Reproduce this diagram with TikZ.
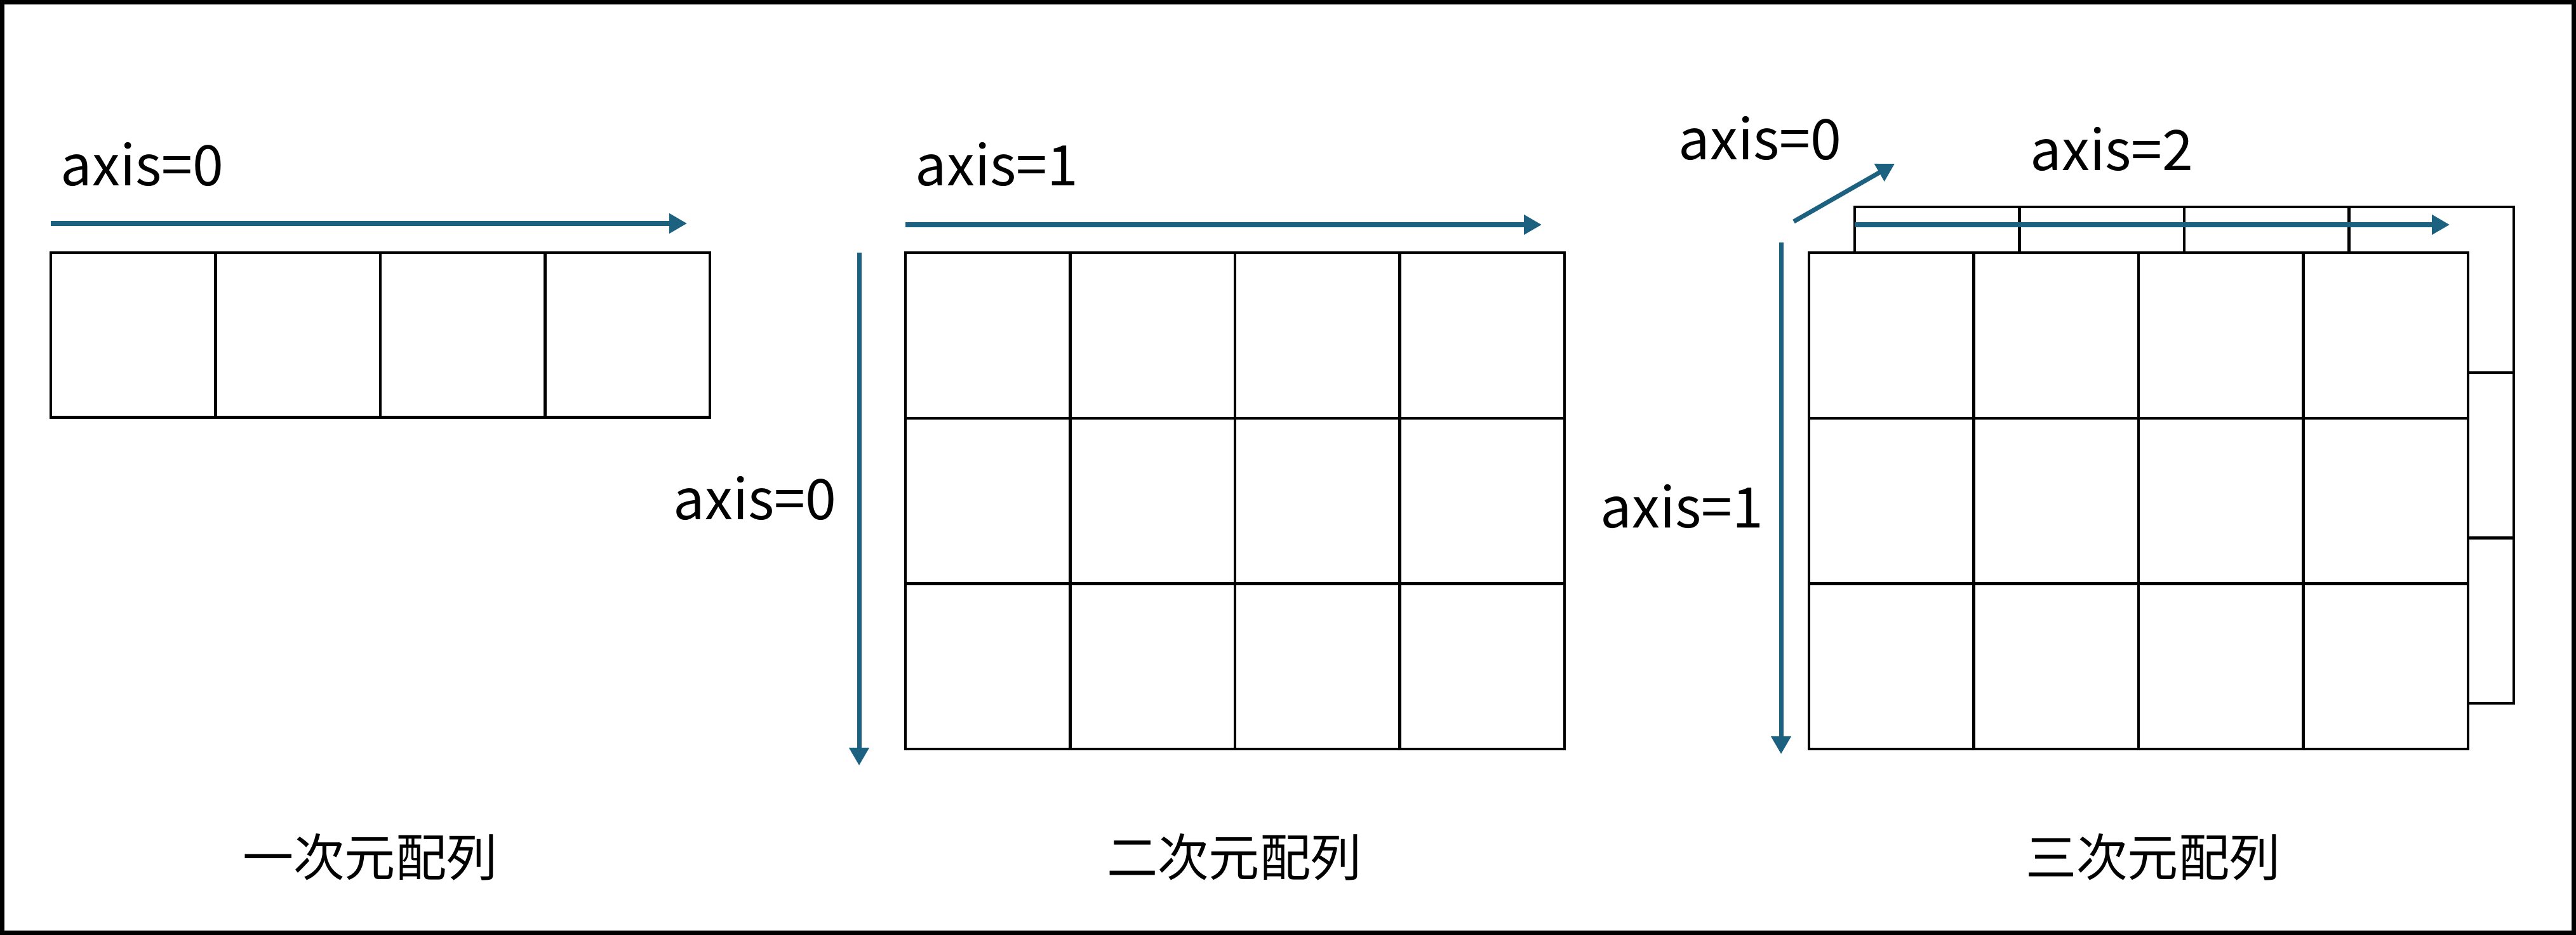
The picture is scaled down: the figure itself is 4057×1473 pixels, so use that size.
\documentclass[tikz,border=0pt]{standalone}
\usepackage{fontspec}
\setmainfont{Noto Sans CJK JP}
\usetikzlibrary{arrows.meta}
\definecolor{axisblue}{RGB}{28,97,128}
\begin{document}
\begin{tikzpicture}[x=0.01cm, y=-0.01cm,
        cell/.style={line width=1.25pt},
        axisarrow/.style={axisblue, line width=2pt, -{Triangle[length=0.28cm, width=0.3cm]}},
        axislabel/.style={font=\fontsize{25}{30}\selectfont},
        arraytitle/.style={font=\fontsize{22.8}{26}\selectfont}]
        \useasboundingbox (0,0) rectangle (4057,1473);
        \draw[line width=2pt] (3.5,3.5) rectangle (4053.5,1469.5);
        % one dimension
        \draw[cell] (80,398) rectangle (1118,657.5);
        \foreach \i in {1,2,3}
            \draw[cell] (80+259.5*\i,398) -- (80+259.5*\i,657.5);
        \coordinate (a1s) at (80,352);
        \coordinate (a1e) at (1082,352);
        \draw[axisarrow] (a1s) -- (a1e);
        \node[axislabel] (l1) at (224,259) {axis=0};
        \node[arraytitle] (t1) at (583,1350) {一次元配列};
        % two dimensions
        \draw[cell] (1426,398) rectangle (2464,1180);
        \foreach \i in {1,2,3}
            \draw[cell] (1426+259.5*\i,398) -- (1426+259.5*\i,1180);
        \foreach \j in {1,2}
            \draw[cell] (1426,398+260.7*\j) -- (2464,398+260.7*\j);
        \coordinate (b1s) at (1426,354);
        \coordinate (b1e) at (2428,354);
        \draw[axisarrow] (b1s) -- (b1e);
        \coordinate (b0s) at (1353,398);
        \coordinate (b0e) at (1353,1206);
        \draw[axisarrow] (b0s) -- (b0e);
        \node[axislabel] (l2a) at (1570,259) {axis=1};
        \node[axislabel] (l2b) at (1189,785) {axis=0};
        \node[arraytitle] (t2) at (1944,1350) {二次元配列};
        % three dimensions: back layer, then front layer
        \draw[cell] (2921,398) -- (2921,326) -- (3959,326) -- (3959,1108) -- (3887,1108);
        \foreach \i in {1,2,3}
            \draw[cell] (2921+259.5*\i,326) -- (2921+259.5*\i,398);
        \foreach \j in {1,2}
            \draw[cell] (3887,326+260.7*\j) -- (3959,326+260.7*\j);
        \draw[cell] (2849,398) rectangle (3887,1180);
        \foreach \i in {1,2,3}
            \draw[cell] (2849+259.5*\i,398) -- (2849+259.5*\i,1180);
        \foreach \j in {1,2}
            \draw[cell] (2849,398+260.7*\j) -- (3887,398+260.7*\j);
        \coordinate (c2s) at (2921,354);
        \coordinate (c2e) at (3858,354);
        \draw[axisarrow] (c2s) -- (c2e);
        \coordinate (c0s) at (2825,349);
        \coordinate (c0e) at (2984,258);
        \draw[axisarrow] (c0s) -- (c0e);
        \coordinate (c1s) at (2805,382);
        \coordinate (c1e) at (2805,1188);
        \draw[axisarrow] (c1s) -- (c1e);
        \node[axislabel] (l3a) at (2772,218) {axis=0};
        \node[axislabel] (l3b) at (3326,235) {axis=2};
        \node[axislabel] (l3c) at (2649,798) {axis=1};
        \node[arraytitle] (t3) at (3391,1350) {三次元配列};
\end{tikzpicture}
\end{document}
